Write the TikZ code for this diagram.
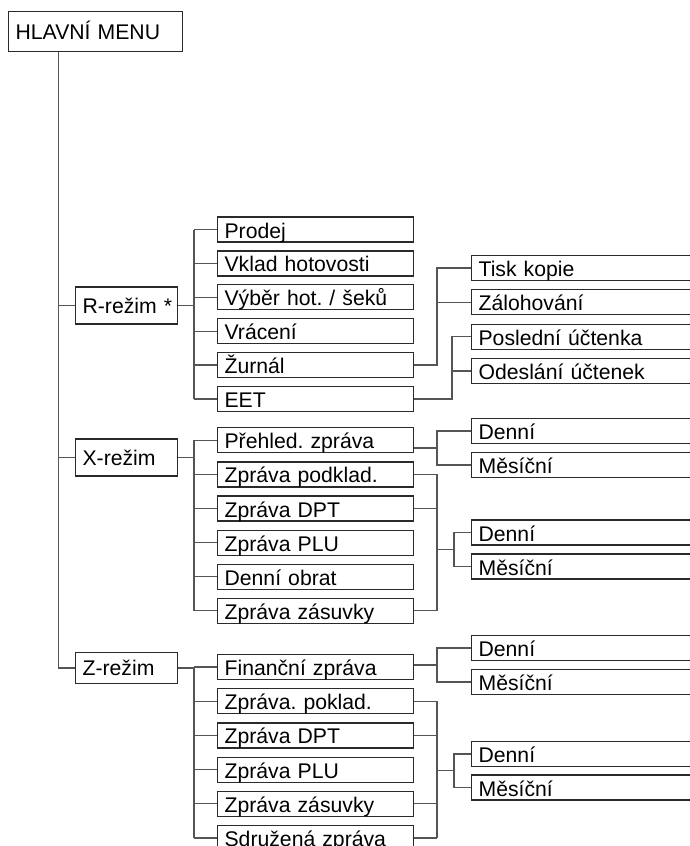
\documentclass[tikz,border=0pt]{standalone}
\usepackage{fontspec}
\setmainfont{Liberation Sans}
\usetikzlibrary{calc}
\definecolor{boxc}{HTML}{2A2A2A}
\definecolor{linec}{HTML}{555555}
\frenchspacing
\begin{document}
\begin{tikzpicture}[x=1pt,y=-1pt,
  box/.style={font=\fontsize{21.2}{24}\selectfont\frenchspacing, inner xsep=7pt, inner ysep=0pt, align=left, anchor=west, draw=boxc, line width=1.2pt, fill=white},
  menubox/.style={box, text width=159.7pt, text height=27.5pt, text depth=12.5pt},
  modebox/.style={box, text width=88pt, text height=26pt, text depth=11pt},
  modeboxs/.style={box, text width=88pt, text height=22.5pt, text depth=8pt},
  itembox/.style={box, text width=182pt, text height=21pt, text depth=4pt},
  leafbox/.style={box, text width=220pt, text height=21pt, text depth=4pt},
  conn/.style={draw=linec, line width=1.3pt},
]
\useasboundingbox (0,0) rectangle (690,846);
\clip (0,0) rectangle (690,846);

% top and modes
\node[menubox] (hm) at (8,31.7) {HLAVNÍ MENU};
\node[modebox] (r) at (75,305.5) {\mbox{R-režim~*}};
\node[modebox] (x) at (75,457.5) {X-režim};
\node[modeboxs] (z) at (75,668) {Z-režim};

% R items
\node[itembox] (r1) at (217,229.5) {Prodej};
\node[itembox] (r2) at (217,263.4) {Vklad hotovosti};
\node[itembox] (r3) at (217,297.3) {Výběr hot. / šeků};
\node[itembox] (r4) at (217,331.2) {Vrácení};
\node[itembox] (r5) at (217,365.1) {Žurnál};
\node[itembox] (r6) at (217,399.0) {EET};

% R leaves
\node[leafbox] (l1) at (471,268) {Tisk kopie};
\node[leafbox] (l2) at (471,302.3) {Zálohování};
\node[leafbox] (l3) at (471,336.6) {Poslední účtenka};
\node[leafbox] (l4) at (471,371) {Odeslání účtenek};

% X items
\node[itembox] (x1) at (217,440.3) {Přehled. zpráva};
\node[itembox] (x2) at (217,474.4) {Zpráva podklad.};
\node[itembox] (x3) at (217,508.5) {Zpráva DPT};
\node[itembox] (x4) at (217,542.6) {Zpráva PLU};
\node[itembox] (x5) at (217,576.7) {Denní obrat};
\node[itembox] (x6) at (217,610.8) {Zpráva zásuvky};

% X leaves
\node[leafbox] (xa1) at (471,431) {Denní};
\node[leafbox] (xb1) at (471,465) {Měsíční};
\node[leafbox] (xa2) at (471,532.5) {Denní};
\node[leafbox] (xb2) at (471,566.5) {Měsíční};

% Z items
\node[itembox] (z1) at (217,667) {Finanční zpráva};
\node[itembox] (z2) at (217,701.2) {Zpráva. poklad.};
\node[itembox] (z3) at (217,735.4) {Zpráva DPT};
\node[itembox] (z4) at (217,769.6) {Zpráva PLU};
\node[itembox] (z5) at (217,803.8) {Zpráva zásuvky};
\node[itembox] (z6) at (217,838) {Sdružená zpráva};

% Z leaves
\node[leafbox] (za1) at (471,648) {Denní};
\node[leafbox] (zb1) at (471,682) {Měsíční};
\node[leafbox] (za2) at (471,754) {Denní};
\node[leafbox] (zb2) at (471,787.5) {Měsíční};

% bus coordinates
\coordinate (mb) at (58.3,0);
\coordinate (bb) at (194,0);
\coordinate (b1) at (437,0);
\coordinate (b2) at (452,0);
\coordinate (b3) at (454,0);

% main trunk
\draw[conn] (mb |- hm.south) -- (mb |- z.west) -- (z.west);
\draw[conn] (mb |- r.west) -- (r.west);
\draw[conn] (mb |- x.west) -- (x.west);

% R branch
\draw[conn] (r.east) -- (bb |- r.east);
\draw[conn] (bb |- r1.west) -- (bb |- r6.west);
\foreach \i in {1,...,6} \draw[conn] (bb |- r\i.west) -- (r\i.west);
\draw[conn] (r5.east) -| (b1 |- l1.west) -- (l1.west);
\draw[conn] (b1 |- l2.west) -- (l2.west);
\draw[conn] (r6.east) -| (b2 |- l3.west) -- (l3.west);
\draw[conn] (b2 |- l4.west) -- (l4.west);

% X branch
\draw[conn] (x.east) -- (bb |- x.east);
\draw[conn] (bb |- x1.west) -- (bb |- x6.west);
\foreach \i in {1,...,6} \draw[conn] (bb |- x\i.west) -- (x\i.west);
\coordinate (xm1) at ($(xa1.west)!0.5!(xb1.west)$);
\draw[conn] (x1.east |- xm1) -- (b1 |- xm1);
\draw[conn] (xa1.west) -| (b1 |- xb1.west) -- (xb1.west);
\draw[conn] (b1 |- x2.east) -- (b1 |- x6.east);
\foreach \i in {2,3,6} \draw[conn] (x\i.east) -- (b1 |- x\i.east);
\coordinate (xm2) at ($(xa2.west)!0.5!(xb2.west)$);
\draw[conn] (b1 |- xm2) -- (b3 |- xm2);
\draw[conn] (xa2.west) -| (b3 |- xb2.west) -- (xb2.west);

% Z branch
\draw[conn] (z.east) -- (bb |- z.east);
\draw[conn] (bb |- z1.west) -- (bb |- z6.west);
\foreach \i in {1,...,6} \draw[conn] (bb |- z\i.west) -- (z\i.west);
\coordinate (zm1) at ($(za1.west)!0.5!(zb1.west)$);
\draw[conn] (z1.east |- zm1) -- (b1 |- zm1);
\draw[conn] (za1.west) -| (b1 |- zb1.west) -- (zb1.west);
\draw[conn] (b1 |- z2.east) -- (b1 |- z6.east);
\foreach \i in {2,3,5,6} \draw[conn] (z\i.east) -- (b1 |- z\i.east);
\coordinate (zm2) at ($(za2.west)!0.5!(zb2.west)$);
\draw[conn] (b1 |- zm2) -- (b3 |- zm2);
\draw[conn] (za2.west) -| (b3 |- zb2.west) -- (zb2.west);
\end{tikzpicture}
\end{document}
